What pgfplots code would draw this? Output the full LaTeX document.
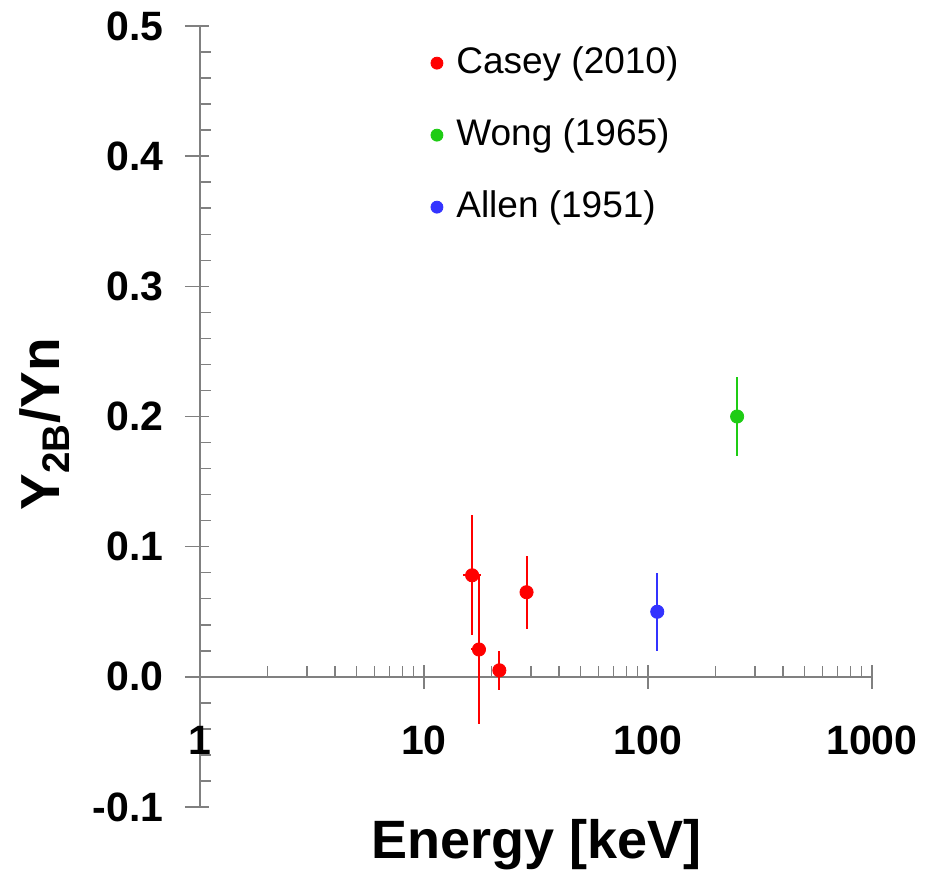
\documentclass[border=0pt]{standalone}
\usepackage{pgfplots}
\pgfplotsset{compat=1.18}
\usepackage{pgfplotstable}
\usepackage{fontspec}
\setmainfont{Liberation Sans}
\definecolor{axgray}{RGB}{128,128,128}
\definecolor{cred}{RGB}{255,0,0}
\definecolor{cgreen}{RGB}{30,204,20}
\definecolor{cblue}{RGB}{51,51,255}
\pgfplotstableread{
x y ex ey
16.4 0.078 1.5 0.046
17.6 0.021 1.4 0.057
21.7 0.005 0 0.015
28.7 0.065 0 0.028
}\casey
\pgfplotstableread{
x y ex ey
250 0.200 0 0.030
}\wong
\pgfplotstableread{
x y ex ey
110 0.050 0 0.030
}\allen
\begin{document}
\begin{tikzpicture}
\begin{axis}[
  at={(0,0)}, anchor=south west,
  scale only axis, width=336pt, height=390.5pt,
  xmode=log, xmin=1, xmax=1000, ymin=-0.1, ymax=0.5,
  axis x line=middle, axis y line=left,
  axis line style={-, draw=axgray, line width=1pt},
  every inner x axis line/.append style={-},
  every outer y axis line/.append style={-},
  hide obscured x ticks=false, hide obscured y ticks=false,
  xtick={1,10,100,1000}, xticklabels={1,10,100,1000},
  ytick={-0.1,0,0.1,0.2,0.3,0.4,0.5},
  yticklabels={-0.1,0.0,0.1,0.2,0.3,0.4,0.5},
  minor y tick num=4,
  tick align=inside,
  major tick length=12pt, minor tick length=5.5pt,
  tick style={draw=axgray, line width=0.75pt},
  major x tick style={yshift=-6pt},
  major y tick style={xshift=-7.5pt},
  tick label style={font=\bfseries\fontsize{20.5}{24}\selectfont},
  xticklabel style={anchor=base, inner sep=0pt, yshift=-39pt},
  yticklabel style={anchor=east, inner sep=0pt, xshift=-18pt},
  xlabel={Energy [keV]}, ylabel={Y\textsubscript{2B}/Yn},
  every axis x label/.style={font=\bfseries\fontsize{27}{31}\selectfont, at={(axis description cs:0.5015,-0.0487)}, anchor=center},
  every axis y label/.style={font=\bfseries\fontsize{27.5}{31}\selectfont, rotate=90, at={(axis description cs:-0.231,0.490)}, anchor=center},
  legend style={draw=none, fill=none, at={(axis description cs:0.3425,0.976)}, anchor=north west, inner sep=0pt, row sep=18pt, column sep=6.5pt, font=\fontsize{18.5}{22}\selectfont, nodes={inner sep=0pt, text height=14pt, text depth=4pt}},
  legend cell align=left,
  legend image code/.code={\fill[#1] (0pt,0pt) circle (3pt);},
  clip=false,
]
\addplot[color=cred, only marks, mark=*, mark size=3.3pt,
  error bars/.cd, x dir=both, x explicit, y dir=both, y explicit, error mark=none, error bar style={line width=1pt}]
  table[x=x, y=y, x error=ex, y error=ey] {\casey};
\addlegendentry{Casey (2010)}
\addplot[color=cgreen, only marks, mark=*, mark size=3.3pt,
  error bars/.cd, y dir=both, y explicit, error mark=none, error bar style={line width=1pt}]
  table[x=x, y=y, y error=ey] {\wong};
\addlegendentry{Wong (1965)}
\addplot[color=cblue, only marks, mark=*, mark size=3.3pt,
  error bars/.cd, y dir=both, y explicit, error mark=none, error bar style={line width=1pt}]
  table[x=x, y=y, y error=ey] {\allen};
\addlegendentry{Allen (1951)}
\end{axis}
\pgfresetboundingbox
\path[use as bounding box] (-100pt,-33.5pt) rectangle (367pt,403.5pt);
\end{tikzpicture}
\end{document}
